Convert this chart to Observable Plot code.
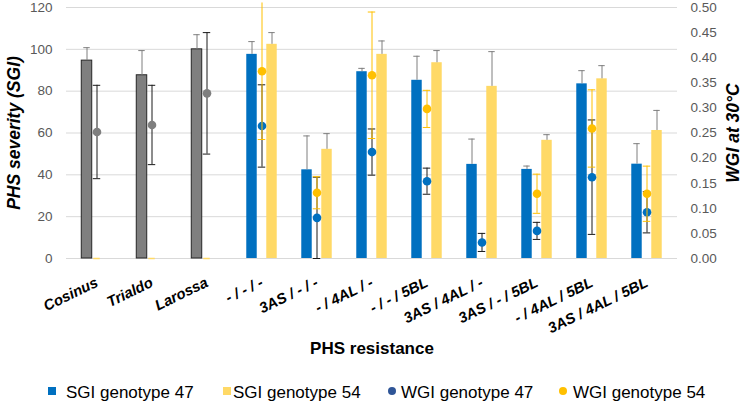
<!DOCTYPE html>
<html>
<head>
<meta charset="utf-8">
<script src="https://cdn.jsdelivr.net/npm/d3@7"></script>
<script src="https://cdn.jsdelivr.net/npm/@observablehq/plot@0.6"></script>
<style>
  html, body { margin: 0; padding: 0; background: #fff; }
  body { width: 742px; font-family: "Liberation Sans", Arial, sans-serif; }
  #legend { position: relative; width: 742px; height: 31px; font-size: 17px; color: #000; }
  #legend .sw { position: absolute; width: 8px; height: 8px; top: 15px; }
  #legend .dot { position: absolute; width: 8px; height: 8px; border-radius: 50%; top: 15px; }
  #legend .lb { position: absolute; top: 12px; line-height: 17px; white-space: nowrap; }
</style>
</head>
<body>
<div id="chart"></div>
<div id="legend">
  <div class="sw" style="left:48px;background:#0070C0"></div><div class="lb" style="left:66px">SGI genotype 47</div>
  <div class="sw" style="left:223px;background:#FFD966"></div><div class="lb" style="left:233px">SGI genotype 54</div>
  <div class="dot" style="left:388px;background:#2F5597"></div><div class="lb" style="left:401px">WGI genotype 47</div>
  <div class="dot" style="left:559px;background:#FFC000"></div><div class="lb" style="left:573px">WGI genotype 54</div>
</div>
<script>
// ---- data ----
const groups = ["Cosinus", "Trialdo", "Larossa", "- / - / -", "3AS / - / -", "- / 4AL / -", "- / - / 5BL", "3AS / 4AL / -", "3AS / - / 5BL", "- / 4AL / 5BL", "3AS / 4AL / 5BL"];
const cultivars = ["Cosinus", "Trialdo", "Larossa"];
const sgi47    = [94.6, 87.6, 100.0, 97.6, 42.4, 89.3, 85.2, 45.0, 42.6, 83.5, 45.1];
const sgi47Err = [6.2, 11.8, 7.0, 6.1, 16.2, 1.6, 11.5, 12.1, 1.6, 6.3, 9.8];
const sgi54    = [0, 0, 0, 102.4, 52.2, 97.6, 93.6, 82.3, 56.5, 85.9, 61.2];
const sgi54Err = [0, 0, 0, 5.6, 7.5, 6.4, 5.8, 16.6, 2.7, 6.3, 9.6];
const wgi47    = [0.252, 0.266, 0.329, 0.264, 0.081, 0.212, 0.154, 0.032, 0.055, 0.162, 0.092];
const wgi47Err = [0.093, 0.079, 0.121, 0.082, 0.081, 0.046, 0.026, 0.018, 0.017, 0.114, 0.041];
const wgi54    = [null, null, null, 0.373, 0.131, 0.365, 0.298, null, 0.129, 0.259, 0.129];
const wgi54Err = [null, null, null, 0.136, 0.032, 0.126, 0.037, null, 0.039, 0.077, 0.055];
const sgiTicks = [0, 20, 40, 60, 80, 100, 120];
const wgiTicks = [0, 0.05, 0.10, 0.15, 0.20, 0.25, 0.30, 0.35, 0.40, 0.45, 0.50];
const sgiMax = 120, wgiMax = 0.5;

// ---- layout ----
const W = 742, H = 372, mL = 66, mR = 65, mT = 7, mB = 114;
const band = (W - mL - mR) / groups.length;
const ins = w => (band - w) / 2;
const k = sgiMax / wgiMax; // WGI -> left-axis units

const rows = groups.map((g, i) => ({
  g, cult: cultivars.includes(g),
  sgi47: sgi47[i], sgi47Err: sgi47Err[i],
  sgi54: sgi54[i], sgi54Err: sgi54Err[i],
  wgi47: wgi47[i], wgi47Err: wgi47Err[i],
  wgi54: wgi54[i], wgi54Err: wgi54Err[i]
}));
const cultRows = rows.filter(d => d.cult);
const lineRows = rows.filter(d => !d.cult);
const w54Rows = rows.filter(d => d.wgi54 != null);
const zero54 = rows.filter(d => d.sgi54 === 0);

const barW = 11, capW = 7, dotCapW = 8, off = 10;
const grey = "#7f7f7f";

const chart = Plot.plot({
  width: W, height: H,
  marginLeft: mL, marginRight: mR, marginTop: mT, marginBottom: mB,
  style: { fontFamily: "'Liberation Sans', Arial, sans-serif", background: "#fff" },
  x: { type: "band", domain: groups, paddingInner: 0, paddingOuter: 0 },
  y: { domain: [0, sgiMax] },
  marks: [
    Plot.gridY(sgiTicks, { stroke: "#d9d9d9", strokeOpacity: 1 }),
    Plot.axisY({ anchor: "left", ticks: sgiTicks, tickSize: 0, tickPadding: 14, label: null, fontSize: 13.5, color: "#595959" }),
    Plot.axisY({ anchor: "right", ticks: wgiTicks.map(v => v * k), tickFormat: v => (v / k).toFixed(2), tickSize: 0, tickPadding: 13, label: null, fontSize: 13.5, color: "#595959" }),
    Plot.axisX({ tickSize: 0, tickPadding: 23, tickRotate: -26, label: null, fontSize: 14.8, fontWeight: "bold", fontStyle: "italic", color: "#000" }),
    // bars
    Plot.barY(cultRows, { x: "g", y: "sgi47", fill: grey, stroke: "#262626", strokeWidth: 1, insetLeft: ins(barW), insetRight: ins(barW), dx: -off }),
    Plot.barY(lineRows, { x: "g", y: "sgi47", fill: "#0070C0", insetLeft: ins(barW), insetRight: ins(barW), dx: -off }),
    Plot.barY(lineRows, { x: "g", y: "sgi54", fill: "#FFD966", insetLeft: ins(barW), insetRight: ins(barW), dx: off }),
    Plot.tickY(zero54, { x: "g", y: "sgi54", stroke: "#FFD966", strokeWidth: 1.5, insetLeft: ins(7), insetRight: ins(7) }),
    // bar error bars (upper)
    Plot.ruleX(rows, { x: "g", y1: "sgi47", y2: d => d.sgi47 + d.sgi47Err, dx: -off, stroke: grey }),
    Plot.tickY(rows, { x: "g", y: d => d.sgi47 + d.sgi47Err, dx: -off, stroke: grey, insetLeft: ins(capW), insetRight: ins(capW) }),
    Plot.ruleX(lineRows, { x: "g", y1: "sgi54", y2: d => d.sgi54 + d.sgi54Err, dx: off, stroke: grey }),
    Plot.tickY(lineRows, { x: "g", y: d => d.sgi54 + d.sgi54Err, dx: off, stroke: grey, insetLeft: ins(capW), insetRight: ins(capW) }),
    // WGI 47
    Plot.ruleX(rows, { x: "g", y1: d => (d.wgi47 - d.wgi47Err) * k, y2: d => (d.wgi47 + d.wgi47Err) * k, stroke: "#1a1a1a" }),
    Plot.tickY(rows, { x: "g", y: d => (d.wgi47 - d.wgi47Err) * k, stroke: "#1a1a1a", insetLeft: ins(dotCapW), insetRight: ins(dotCapW) }),
    Plot.tickY(rows, { x: "g", y: d => (d.wgi47 + d.wgi47Err) * k, stroke: "#1a1a1a", insetLeft: ins(dotCapW), insetRight: ins(dotCapW) }),
    Plot.dot(cultRows, { x: "g", y: d => d.wgi47 * k, r: 4.3, fill: grey, stroke: "none" }),
    Plot.dot(lineRows, { x: "g", y: d => d.wgi47 * k, r: 4.3, fill: "#0070C0", stroke: "none" }),
    // WGI 54
    Plot.ruleX(w54Rows, { x: "g", y1: d => (d.wgi54 - d.wgi54Err) * k, y2: d => Math.min(d.wgi54 + d.wgi54Err, wgiMax * 1.04) * k, stroke: "#FFC000" }),
    Plot.tickY(w54Rows, { x: "g", y: d => (d.wgi54 - d.wgi54Err) * k, stroke: "#FFC000", insetLeft: ins(dotCapW), insetRight: ins(dotCapW) }),
    Plot.tickY(w54Rows.filter(d => d.wgi54 + d.wgi54Err <= wgiMax), { x: "g", y: d => (d.wgi54 + d.wgi54Err) * k, stroke: "#FFC000", insetLeft: ins(dotCapW), insetRight: ins(dotCapW) }),
    Plot.dot(w54Rows, { x: "g", y: d => d.wgi54 * k, r: 4.3, fill: "#FFC000", stroke: "none" }),
    // titles
    Plot.text(["PHS severity (SGI)"], { frameAnchor: "left", textAnchor: "middle", dx: -52, rotate: -90, fontSize: 17.5, fontWeight: "bold", fontStyle: "italic", fill: "#000" }),
    Plot.text(["WGI at 30°C"], { frameAnchor: "right", textAnchor: "middle", dx: 56, rotate: -90, fontSize: 17.5, fontWeight: "bold", fontStyle: "italic", fill: "#000" }),
    Plot.text(["PHS resistance"], { frameAnchor: "bottom", dy: 95, fontSize: 17, fontWeight: "bold", fill: "#000" })
  ]
});
document.getElementById("chart").appendChild(chart);
</script>
</body>
</html>
